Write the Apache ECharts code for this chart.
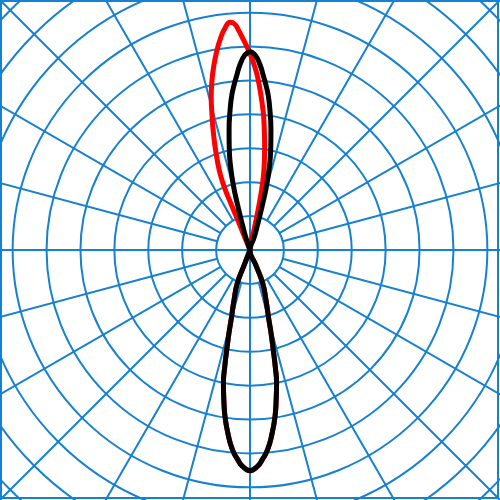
<!DOCTYPE html>
<html>
<head>
<meta charset="utf-8">
<script src="https://cdn.jsdelivr.net/npm/echarts@6/dist/echarts.min.js"></script>
<style>
html, body { margin: 0; padding: 0; background: #fff; }
#chart { width: 500px; height: 500px; }
</style>
</head>
<body>
<div id="chart"></div>
<script>
// angle: 0 = up, clockwise positive (degrees); radius in grid-ring units
var redUpperAngle = [-22.3, -22.3, -22.3, -22.35, -22.3, -21.5, -20.0, -18.5, -17.1, -15.7, -14.3, -12.8, -11.25, -9.6, -7.9, -6.4, -5.0, -3.9, -2.9, -1.9, -0.85, 0.3, 1.4, 2.5, 3.6, 4.7, 5.8, 6.8, 8.0, 9.1, 10.2, 10.9, 11.3, 11.5, 11.3, 11.5];
var redUpperR     = [0, 0.48, 0.96, 1.435, 1.91, 2.38, 2.83, 3.27, 3.70, 4.14, 4.63, 5.08, 5.50, 5.92, 6.31, 6.59, 6.74, 6.68, 6.47, 6.23, 5.99, 5.72, 5.43, 5.11, 4.73, 4.35, 3.97, 3.56, 3.10, 2.69, 2.25, 1.80, 1.35, 0.96, 0.60, 0];

var blackUpperAngle = [-19, -18.4, -16.7, -15.4, -14.4, -13.0, -11.5, -9.9, -8.1, -6.7, -5.5, -4.4, -3.1, -1.5, 0, 1.5, 3.1, 4.4, 5.5, 6.7, 8.1, 9.9, 11.5, 13.0, 14.4, 15.4, 16.7, 18.4, 19];
var blackUpperR     = [0, 0.37, 0.77, 1.38, 1.98, 2.57, 3.07, 3.59, 4.17, 4.60, 4.89, 5.15, 5.47, 5.75, 5.85, 5.75, 5.47, 5.15, 4.89, 4.60, 4.17, 3.59, 3.07, 2.57, 1.98, 1.38, 0.77, 0.37, 0];

// lower lobe, shared by both traces (red sits under the black one)
var lowerAngle = [159, 158.9, 159.1, 162.3, 164.6, 165.8, 166.9, 167.8, 168.7, 170.1, 171.5, 173.1, 175.0, 176.7, 177.9, 180, -177.9, -176.7, -175.0, -173.1, -171.5, -170.1, -168.7, -167.8, -166.9, -165.8, -164.6, -162.3, -159.1, -158.9, -159];
var lowerR     = [0, 0.47, 1.05, 1.55, 2.05, 2.53, 3.03, 3.53, 4.00, 4.49, 4.98, 5.44, 5.92, 6.20, 6.37, 6.51, 6.37, 6.20, 5.92, 5.44, 4.98, 4.49, 4.00, 3.53, 3.03, 2.53, 2.05, 1.55, 1.05, 0.47, 0];

var ringRange = [0, 11];   // radius axis range, one ring per unit
var gridColor = '#1681d1';

function pairs(rs, angles) {
	var out = [];
	for (var i = 0; i < rs.length; i++) {
		out.push([rs[i], angles[i]]);
	}
	return out;
}

var redData = pairs(redUpperR, redUpperAngle).concat(pairs(lowerR, lowerAngle));
var blackData = pairs(blackUpperR, blackUpperAngle).concat(pairs(lowerR, lowerAngle));

var chart = echarts.init(document.getElementById('chart'), null, { renderer: 'canvas' });

var hidden = { show: false };
var gridLine = { show: true, lineStyle: { color: gridColor, width: 2 } };

var option = {
	animation: false,
	backgroundColor: '#fff',
	polar: [
		{ center: ['50%', '50%'], radius: [0, 373] },
		{ center: ['50%', '50%'], radius: [33.9, 373] }
	],
	angleAxis: [
		{
			polarIndex: 0, type: 'value', min: -180, max: 180, interval: 90, startAngle: 270,
			axisLine: hidden, axisTick: hidden, axisLabel: hidden, splitLine: gridLine
		},
		{
			polarIndex: 1, type: 'value', min: -180, max: 180, interval: 15, startAngle: 270,
			axisLine: hidden, axisTick: hidden, axisLabel: hidden, splitLine: gridLine
		}
	],
	radiusAxis: [
		{
			polarIndex: 0, type: 'value', min: ringRange[0], max: ringRange[1], interval: 1,
			axisLine: hidden, axisTick: hidden, axisLabel: hidden, splitLine: gridLine
		},
		{
			polarIndex: 1, type: 'value', min: ringRange[0], max: ringRange[1], interval: 1,
			axisLine: hidden, axisTick: hidden, axisLabel: hidden, splitLine: hidden
		}
	],
	series: [
		{
			name: 'red', type: 'line', coordinateSystem: 'polar', polarIndex: 0,
			data: redData, smooth: 0.5, showSymbol: false, clip: false,
			lineStyle: { color: '#ff0000', width: 5 }
		},
		{
			name: 'black', type: 'line', coordinateSystem: 'polar', polarIndex: 0,
			data: blackData, smooth: 0.5, showSymbol: false, clip: false,
			lineStyle: { color: '#000000', width: 5 }
		}
	],
	graphic: [{
		type: 'rect',
		shape: { x: 1, y: 1, width: 497, height: 497 },
		style: { fill: 'none', stroke: gridColor, lineWidth: 2 },
		z: 100
	}]
};

chart.setOption(option);
</script>
</body>
</html>
